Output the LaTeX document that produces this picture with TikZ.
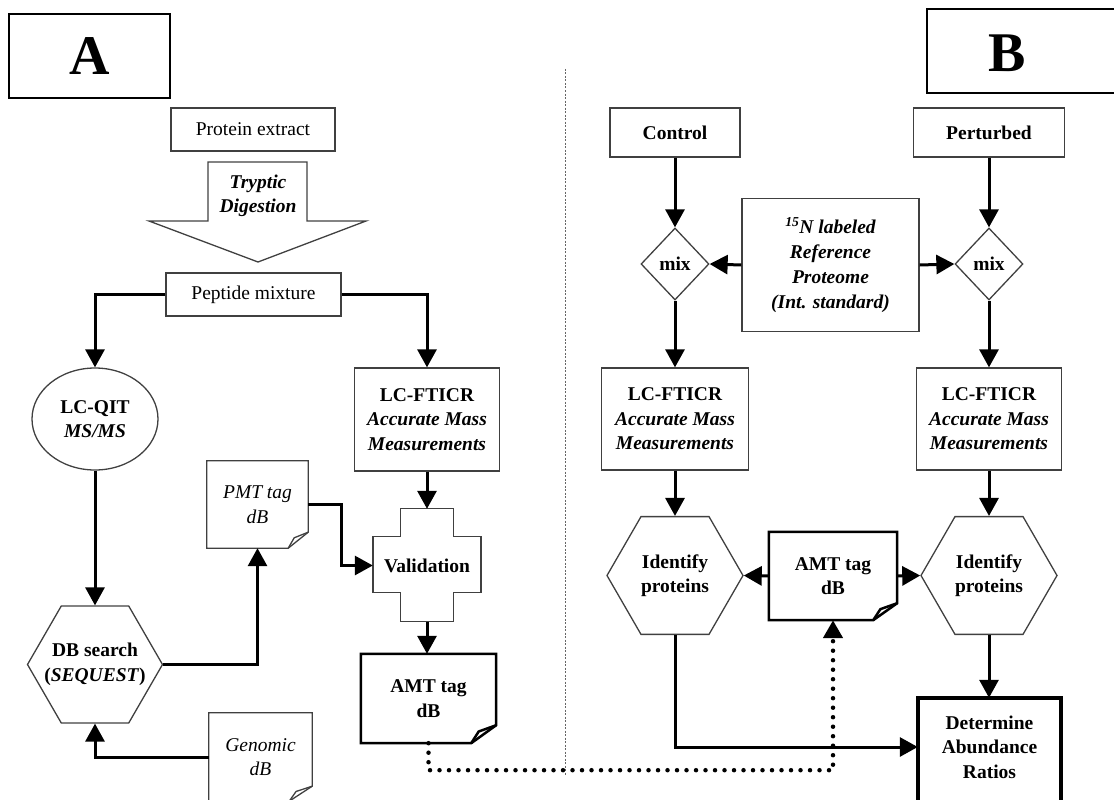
\documentclass[tikz,border=0pt]{standalone}
\usepackage{fontspec}
\setmainfont{Liberation Serif}
\usetikzlibrary{arrows.meta,shapes.geometric}
\newcommand\myfs{\fontsize{19.5}{24.5}\selectfont}
\newcommand\drawdoc[4]{%
  \draw[#2] (#1.north west) -- (#1.north east) -- ([yshift=#4]#1.south east) -- ([xshift=-#3]#1.south east) -- (#1.south west) -- cycle;
  \draw[#2] ([xshift=-#3]#1.south east) -- ([xshift=-0.7*#3, yshift=0.65*#4]#1.south east) -- ([yshift=#4]#1.south east);}
\begin{document}
\begin{tikzpicture}[x=1pt,y=-1pt,
  font=\myfs,
  gline/.style={draw=black!75, line width=1.3pt},
  gbox/.style={gline, inner sep=0pt},
  txtbf/.style={font=\myfs\bfseries},
  txtbi/.style={font=\myfs\bfseries\itshape},
  txtit/.style={font=\myfs\itshape},
  big/.style={font=\fontsize{56}{60}\selectfont\bfseries},
  hexa/.style={regular polygon, regular polygon sides=6, minimum size=136pt, gbox},
  tip/.style={-{Triangle[length=18pt,width=19pt]}},
  arr/.style={draw=black, line width=3pt, tip},
  dots/.style={draw=black, line width=4.5pt, line cap=round, dash pattern=on 0pt off 9.5pt, tip},
  thickdoc/.style={draw=black, line width=2.5pt}]
\useasboundingbox (0,0) rectangle (1114,800);

% Panel labels
\node[draw=black, line width=1.3pt, minimum width=161pt, minimum height=84pt, big] (boxA) at (89.5,56) {A};
\draw[black, line width=1.3pt] (927,9) rectangle (1130,93);
\node[big] (labB) at (1007,53) {B};

% divider
\draw[black!60, line width=1pt, dash pattern=on 2pt off 1.5pt] (565,69) -- (565,775);

% ---------- Panel A ----------
\node[gbox, minimum width=164pt, minimum height=43pt] (prot) at (253,129.5) {Protein extract};
\draw[gline] (208,162) -- (307,162) -- (307,221) -- (366,221) -- (258,262) -- (149,221) -- (208,221) -- cycle;
\node[txtbi, align=center] (tryp) at (258,196) {Tryptic\\Digestion};
\node[gbox, minimum width=175pt, minimum height=43pt] (pep) at (253.5,294.5) {Peptide mixture};

\node[ellipse, gbox, minimum width=126pt, minimum height=102pt, align=center, txtbf] (qit) at (95,419) {LC-QIT\\\textit{MS/MS}};
\node[gbox, minimum width=145pt, minimum height=103pt, align=center, txtbf] (ftA) at (427,419.5) {LC-FTICR\\\textit{Accurate Mass}\\\textit{Measurements}};
\node[hexa, minimum size=135pt] (dbs) at (95,664.5) {};
\node[align=center, txtbf] (dbsT) at (95,664.5) {DB search\\(\textit{SEQUEST})};
\node[minimum width=101pt, minimum height=87pt, align=center, txtit] (pmt) at (257.5,504.5) {PMT tag\\dB};
\drawdoc{pmt}{gline}{20pt}{16pt}
\node[minimum width=108pt, minimum height=113pt, inner sep=0pt, txtbf] (val) at (427,565.5) {Validation};
\draw[gline] ([xshift=-26.5pt]val.north) -- ++(53,0) -- ++(0,28) -- ++(27.5,0) -- ++(0,56) -- ++(-27.5,0) -- ++(0,29) -- ++(-53,0) -- ++(0,-29) -- ++(-27.5,0) -- ++(0,-56) -- ++(27.5,0) -- cycle;
\node[minimum width=135pt, minimum height=89pt, align=center, txtbf] (amtA) at (428.5,698.5) {AMT tag\\dB};
\drawdoc{amtA}{thickdoc}{25pt}{18pt}
\node[minimum width=103pt, minimum height=88pt, align=center, txtit] (gen) at (260.5,757) {Genomic\\dB};
\drawdoc{gen}{gline}{23pt}{15pt}

\draw[arr] (pep.west) -| (qit.north);
\draw[arr] (pep.east) -| (ftA.north);
\draw[arr] (qit.south) -- (dbs.north);
\draw[arr] (dbs.east) -| (pmt.south);
\draw[arr] (pmt.east) -- ++(33,0) |- (val.west);
\draw[arr] (ftA.south) -- (val.north);
\draw[arr] (val.south) -- (val.south |- amtA.north);
\draw[arr] (gen.west) -| (dbs.south);

% ---------- Panel B ----------
\node[gbox, minimum width=130pt, minimum height=49pt, txtbf] (ctrl) at (675,132.5) {Control};
\node[gbox, minimum width=151pt, minimum height=49pt, txtbf] (pert) at (989,132.5) {Perturbed};
\node[diamond, gbox, minimum width=68pt, minimum height=72pt, txtbf] (mixL) at (675,264) {mix};
\node[diamond, gbox, minimum width=68pt, minimum height=72pt, txtbf] (mixR) at (989,264) {mix};
\node[gbox, minimum width=177pt, minimum height=133pt, align=center, font=\fontsize{19.5}{25}\selectfont\bfseries\itshape] (ref) at (830.5,265) {\textsuperscript{15}N labeled\\Reference\\Proteome\\(Int. standard)};
\node[gbox, minimum width=147pt, minimum height=102pt, align=center, txtbf] (ftL) at (675,419) {LC-FTICR\\\textit{Accurate Mass}\\\textit{Measurements}};
\node[gbox, minimum width=145pt, minimum height=102pt, align=center, txtbf] (ftR) at (989,419) {LC-FTICR\\\textit{Accurate Mass}\\\textit{Measurements}};
\node[hexa] (hexL) at (675,575.5) {};
\node[align=center, txtbf] (hexLT) at (675,575.5) {Identify\\proteins};
\node[hexa] (hexR) at (989,575.5) {};
\node[align=center, txtbf] (hexRT) at (989,575.5) {Identify\\proteins};
\node[minimum width=128pt, minimum height=88pt, align=center, txtbf] (amtR) at (833,576) {AMT tag\\dB};
\drawdoc{amtR}{thickdoc}{24pt}{17pt}
\node[minimum width=143pt, minimum height=98pt, align=center, txtbf] (det) at (989.5,747) {Determine\\Abundance\\Ratios};
\draw[black, line width=4pt] (det.north west) rectangle ([yshift=-30pt]det.south east);

\draw[arr] (ctrl.south) -- (mixL.north);
\draw[arr] (pert.south) -- (mixR.north);
\draw[arr] (ref.west) -- (mixL.east);
\draw[arr] (ref.east) -- (mixR.west);
\draw[arr] (mixL.south) -- (ftL.north);
\draw[arr] (mixR.south) -- (ftR.north);
\draw[arr] (ftL.south) -- (hexL.north);
\draw[arr] (ftR.south) -- (hexR.north);
\draw[arr] (amtR.west) -- (hexL.east);
\draw[arr] (amtR.east) -- (hexR.west);
\draw[arr] (hexL.south) |- (det.west);
\draw[arr] (hexR.south) -- (hexR.south |- det.north);

\draw[dots] (amtA.south) -- ++(0,27) -| (amtR.south);
\end{tikzpicture}
\end{document}
